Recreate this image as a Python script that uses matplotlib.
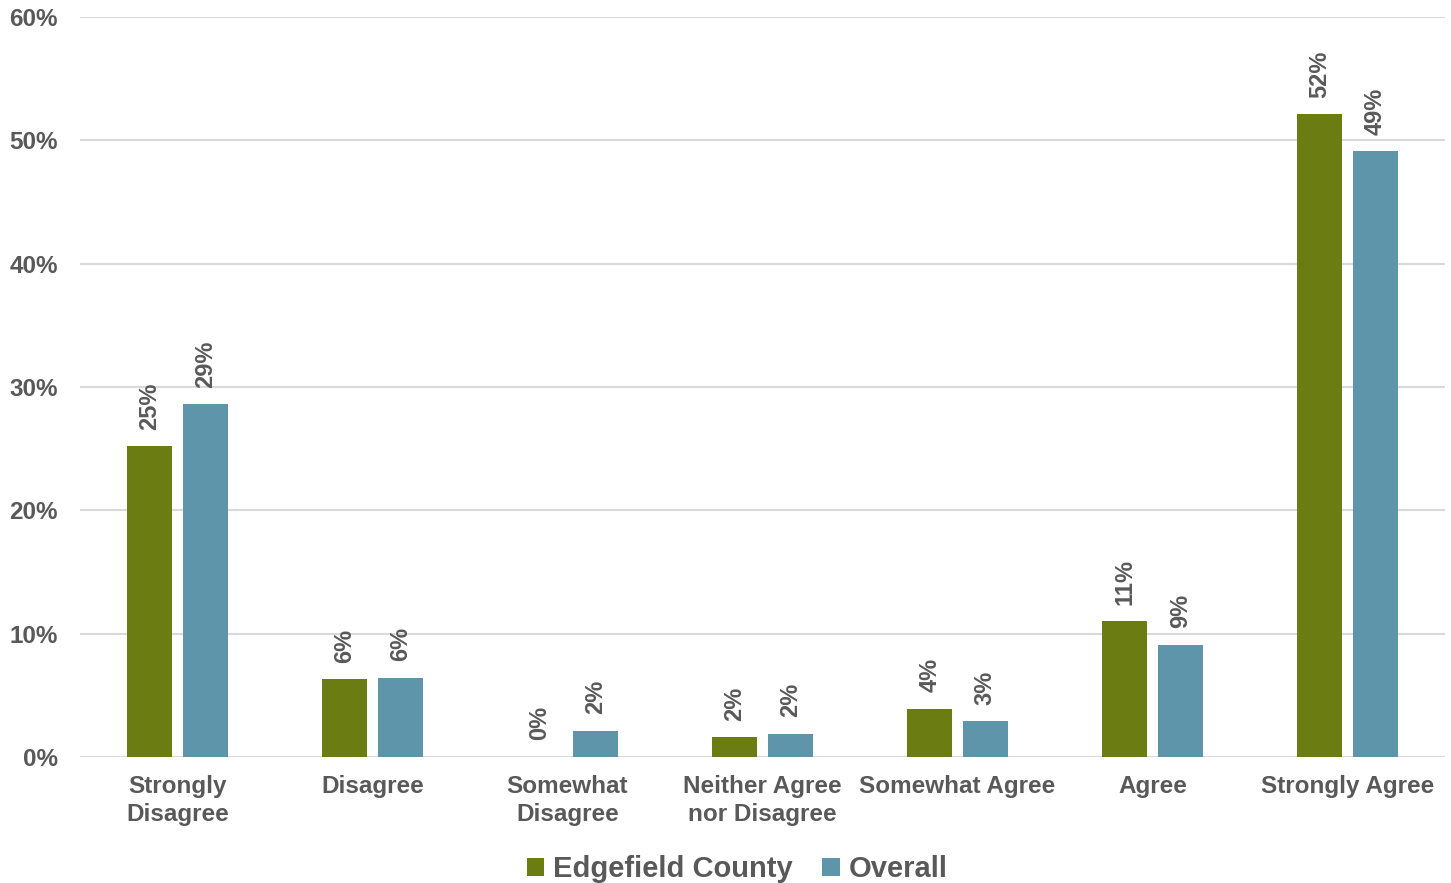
import matplotlib
matplotlib.use("Agg")
import matplotlib.pyplot as plt
import numpy as np

CATEGORIES = [
    "Strongly\nDisagree",
    "Disagree",
    "Somewhat\nDisagree",
    "Neither Agree\nnor Disagree",
    "Somewhat Agree",
    "Agree",
    "Strongly Agree",
]
EDGEFIELD = [25.2, 6.3, 0.0, 1.6, 3.9, 11.0, 52.1]
OVERALL = [28.6, 6.4, 2.1, 1.9, 2.9, 9.1, 49.1]
SERIES_NAMES = ["Edgefield County", "Overall"]
Y_TICKS = [0, 10, 20, 30, 40, 50, 60]

COLORS = ["#6a7c12", "#5e95aa"]
TEXT_COLOR = "#595959"
GRID_COLOR = "#d9d9d9"

plt.rcParams.update(
    {
        "font.family": ["Liberation Sans", "DejaVu Sans"],
        "font.weight": "bold",
    }
)

fig = plt.figure(figsize=(14.51, 8.83), dpi=100)
ax = fig.add_axes([0.0551, 0.1427, 0.9408, 0.838])

x = np.arange(len(CATEGORIES))
width = 0.23
offset = 0.142

for values, name, color, shift in zip(
    [EDGEFIELD, OVERALL], SERIES_NAMES, COLORS, [-offset, offset]
):
    bars = ax.bar(x + shift, values, width=width, color=color, label=name, zorder=3)
    for bar, v in zip(bars, values):
        ax.annotate(
            f"{v:.0f}%",
            xy=(bar.get_x() + bar.get_width() / 2, bar.get_height()),
            xytext=(0, 12),
            textcoords="offset points",
            rotation=90,
            ha="center",
            va="bottom",
            fontsize=17,
            fontweight="bold",
            color=TEXT_COLOR,
        )

ax.set_xlim(-0.5, len(CATEGORIES) - 0.5)
ax.set_ylim(0, 60)
ax.set_yticks(Y_TICKS)
ax.set_yticklabels([f"{t}%" for t in Y_TICKS])
ax.set_xticks(x)
ax.set_xticklabels(CATEGORIES, linespacing=1.25)

ax.tick_params(axis="both", length=0, labelsize=17.5, labelcolor=TEXT_COLOR)
ax.tick_params(axis="y", pad=16)
ax.tick_params(axis="x", pad=13)
for label in ax.get_xticklabels() + ax.get_yticklabels():
    label.set_fontweight("bold")

for spine in ax.spines.values():
    spine.set_visible(False)
ax.yaxis.grid(True, color=GRID_COLOR, linewidth=1.5, zorder=0)
ax.set_axisbelow(True)

fig.legend(
    loc="lower center",
    bbox_to_anchor=(0.508, -0.03),
    ncol=2,
    frameon=False,
    handlelength=0.6,
    handleheight=0.6,
    handletextpad=0.3,
    columnspacing=1.0,
    labelcolor=TEXT_COLOR,
    prop={"weight": "bold", "size": 21},
)

fig.savefig("out.png", dpi=100)
